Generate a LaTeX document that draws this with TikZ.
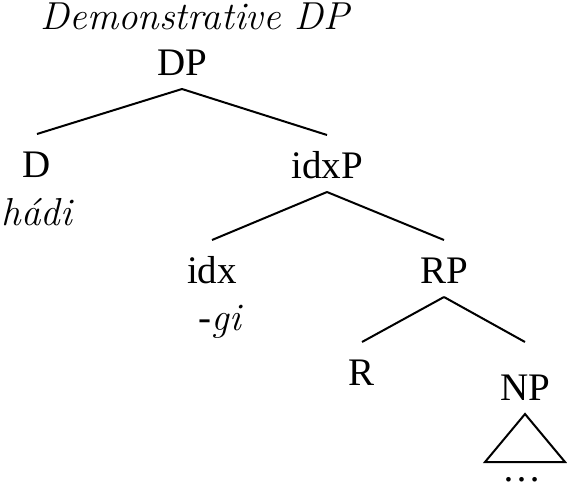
\documentclass[tikz,border=0pt]{standalone}
\usepackage{fontspec}
\setmainfont{Liberation Serif}
\newfontfamily\itfont{Latin Modern Roman}
\newcommand\itword[1]{{\itfont\itshape #1}}
\begin{document}
\begin{tikzpicture}[x=1pt,y=-1pt,line width=2pt,
    cat/.style={anchor=base,inner xsep=0pt,inner ysep=9pt,text height=33pt,text depth=4pt},
    leaf/.style={anchor=base,inner sep=0pt},
    font=\fontsize{39}{46}\selectfont]
\useasboundingbox (0,0) rectangle (567,482);
\node[leaf] (title) at (195,29) {\itword{Demonstrative DP}};
\node[cat] (DP)   at (182,75)  {DP};
\node[cat] (D)    at (37,177)  {D};
\node[leaf] (hadi) at (37,225) {\itword{hádi}};
\node[cat] (idxP) at (327,178) {idxP};
\node[cat] (idx)  at (212,283) {idx};
\node[leaf] (gi)  at (220,330) {-\itword{gi}};
\node[cat] (RP)   at (444,283) {RP};
\node[cat] (R)    at (362,385) {R};
\node[cat,text height=48pt] (NP) at (525,400) {NP};
\node[leaf] (dots) at (522,481) {\dots};
\foreach \p/\c in {DP/D,DP/idxP,idxP/idx,idxP/RP,RP/R,RP/NP}
    \draw (\p.south) -- (\c.north);
\draw (NP.south) -- ++(-40,48) -- ++(80,0) -- cycle;
\end{tikzpicture}
\end{document}
